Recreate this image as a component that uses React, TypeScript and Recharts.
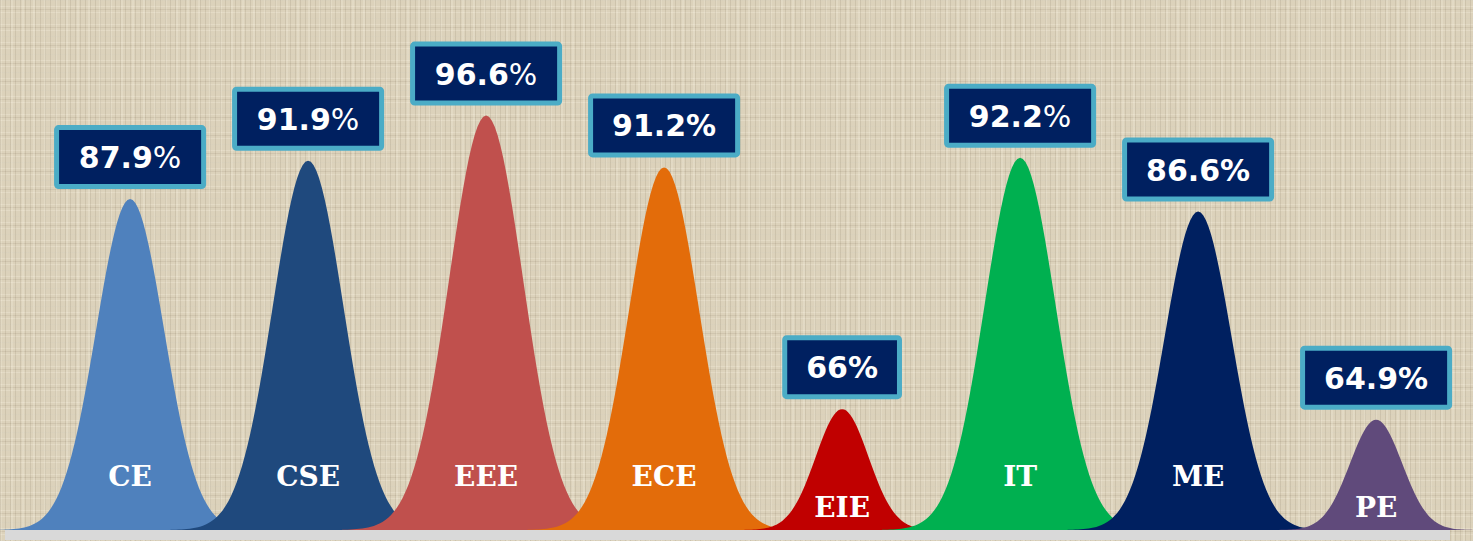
import { BarChart, Bar, XAxis, YAxis, Cell, LabelList } from "recharts";

const branches = ["CE", "CSE", "EEE", "ECE", "EIE", "IT", "ME", "PE"];
const passRates = [87.9, 91.9, 96.6, 91.2, 66, 92.2, 86.6, 64.9];
const branchColors = ["#4f81bd", "#1f497d", "#c0504d", "#e36c0a", "#c00000", "#00b050", "#002060", "#604a7b"];
// the "%" sign is drawn in a lighter weight on these boxes
const lightPercent = new Set(["CE", "CSE", "EEE", "IT"]);

const chartData = branches.map((branch, i) => ({ branch, rate: passRates[i] }));

const W = 1473;
const H = 541;

function Bell(props: any) {
  const { x, y, width, height, fill, payload } = props;
  if (height <= 0) return null;
  const cx = x + width / 2;
  const base = y + height;
  const sigma = 22 + 0.036 * height;
  const half = sigma * 3.9;
  const steps = 100;
  let d = `M${cx - half},${base}`;
  for (let i = 0; i <= steps; i++) {
    const t = -half + (2 * half * i) / steps;
    const h = height * Math.exp((-t * t) / (2 * sigma * sigma));
    d += ` L${(cx + t).toFixed(2)},${(base - h).toFixed(2)}`;
  }
  d += ` L${cx + half},${base} Z`;
  const labelY = height < 200 ? base - 13 : base - 44;
  return (
    <g>
      <path d={d} fill={fill} />
      <text
        x={cx}
        y={labelY}
        textAnchor="middle"
        fill="#ffffff"
        fontFamily="DejaVu Serif"
        fontWeight="bold"
        fontSize={28}
      >
        {payload.branch}
      </text>
    </g>
  );
}

// rough DejaVu Sans Bold advance widths (em)
function textWidth(s: string, size: number) {
  let w = 0;
  for (const ch of s) w += ch === "." ? 0.38 : 0.696;
  return (w + 1.0) * size;
}

function ValueBox(props: any) {
  const { x, y, width, value, index } = props;
  const cx = x + width / 2;
  const num = String(value);
  const fontSize = 30;
  const boxW = textWidth(num, fontSize) + 48;
  const boxH = 64;
  const bottom = y - 10;
  const top = bottom - boxH;
  const light = lightPercent.has(branches[index]);
  return (
    <g>
      <rect
        x={cx - boxW / 2 + 2.5}
        y={top + 2.5}
        width={boxW - 5}
        height={boxH - 5}
        rx={2}
        fill="#002060"
        stroke="#4bacc6"
        strokeWidth={5}
      />
      <text
        x={cx}
        y={top + boxH / 2 + 11}
        textAnchor="middle"
        fill="#ffffff"
        fontFamily="DejaVu Sans"
        fontSize={fontSize}
      >
        <tspan fontWeight="bold">{num}</tspan>
        <tspan fontWeight={light ? "normal" : "bold"}>%</tspan>
      </text>
    </g>
  );
}

export default function App() {
  return (
    <div
      style={{
        position: "absolute",
        left: 0,
        top: 0,
        width: W,
        height: H,
        overflow: "hidden",
        backgroundColor: "#dcd2bb",
        backgroundImage:
          "repeating-linear-gradient(90deg, rgba(100,85,60,0.12) 0px, rgba(100,85,60,0.12) 1px, transparent 1px, transparent 5px)," +
          "repeating-linear-gradient(90deg, rgba(255,250,235,0.18) 0px, rgba(255,250,235,0.18) 2px, transparent 2px, transparent 11px)," +
          "repeating-linear-gradient(0deg, rgba(255,250,235,0.22) 0px, rgba(255,250,235,0.22) 1px, transparent 1px, transparent 6px)," +
          "repeating-linear-gradient(0deg, rgba(100,85,60,0.10) 0px, rgba(100,85,60,0.10) 1px, transparent 1px, transparent 9px)",
      }}
    >
      <div
        style={{
          position: "absolute",
          left: 5,
          top: 530,
          width: 1445,
          height: 10,
          background: "#d9d9d9",
        }}
      />
      <div style={{ position: "absolute", left: 0, top: 0 }}>
        <BarChart
          width={W}
          height={H}
          data={chartData}
          margin={{ top: 83, right: 8, bottom: 11, left: 41 }}
          barCategoryGap="20%"
        >
          <XAxis dataKey="branch" hide />
          <YAxis hide domain={[53.4, 100]} allowDataOverflow />
          <Bar dataKey="rate" isAnimationActive={false} shape={<Bell />}>
            {chartData.map((d, i) => (
              <Cell key={d.branch} fill={branchColors[i]} />
            ))}
            <LabelList dataKey="rate" content={<ValueBox />} />
          </Bar>
        </BarChart>
      </div>
    </div>
  );
}
